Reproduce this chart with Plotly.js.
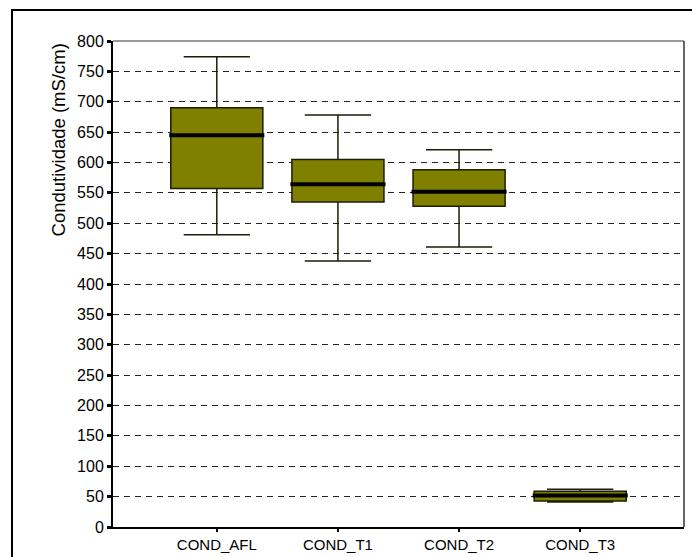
<!DOCTYPE html>
<html>
<head>
<meta charset="utf-8">
<script src="https://cdn.plot.ly/plotly-3.0.1.min.js"></script>
<style>
  html, body { margin: 0; padding: 0; background: #fff; }
  #wrap { position: relative; width: 692px; height: 557px; overflow: hidden; }
  #chart { position: absolute; left: 0; top: 0; width: 692px; height: 557px; }
  #frame { position: absolute; left: 11px; top: 9px; width: 690px; height: 600px; border: 2px solid #000; box-sizing: border-box; pointer-events: none; }
</style>
</head>
<body>
<div id="wrap">
  <div id="chart"></div>
  <div id="frame"></div>
</div>
<script>
const categories = ['COND_AFL', 'COND_T1', 'COND_T2', 'COND_T3'];
const lowerWhisker = [481, 438, 461, 41];
const q1Values = [557, 535, 528, 43];
const medianValues = [645, 564, 552, 52];
const q3Values = [690, 605, 588, 59];
const upperWhisker = [774, 678, 621, 62];
const yTickValues = [0, 50, 100, 150, 200, 250, 300, 350, 400, 450, 500, 550, 600, 650, 700, 750, 800];
const yTitle = 'Condutividade (mS/cm)';

const boxTrace = {
  type: 'box',
  x: categories,
  q1: q1Values,
  median: medianValues,
  q3: q3Values,
  lowerfence: lowerWhisker,
  upperfence: upperWhisker,
  boxpoints: false,
  width: 0.76,
  whiskerwidth: 0.72,
  fillcolor: '#808000',
  line: { color: '#1c1c08', width: 1.5 },
  showlegend: false,
  hoverinfo: 'skip'
};

const medianTrace = {
  type: 'box',
  x: categories,
  q1: medianValues,
  median: medianValues,
  q3: medianValues,
  lowerfence: medianValues,
  upperfence: medianValues,
  boxpoints: false,
  width: 0.785,
  whiskerwidth: 0,
  fillcolor: '#000',
  line: { color: '#000', width: 4 },
  showlegend: false,
  hoverinfo: 'skip'
};

const layout = {
  width: 692,
  height: 557,
  margin: { l: 113, r: 8, t: 41, b: 30, pad: 0 },
  paper_bgcolor: '#fff',
  plot_bgcolor: '#fff',
  font: { family: 'Liberation Sans, Arial, sans-serif', size: 15, color: '#000' },
  boxmode: 'overlay',
  showlegend: false,
  xaxis: {
    type: 'category',
    range: [-0.857, 3.857],
    showgrid: false,
    zeroline: false,
    showline: true,
    linecolor: '#000',
    linewidth: 2,
    ticks: 'outside',
    ticklen: 3,
    tickwidth: 2,
    tickcolor: '#000',
    tickfont: { size: 15 }
  },
  yaxis: {
    range: [0, 800],
    tickvals: yTickValues,
    ticktext: yTickValues.map(String),
    showgrid: true,
    gridcolor: '#222',
    gridwidth: 1,
    griddash: '6px,5px',
    zeroline: false,
    showline: true,
    linecolor: '#000',
    linewidth: 2,
    ticks: 'outside',
    ticklen: 4,
    tickwidth: 3,
    tickcolor: '#000',
    tickfont: { size: 16 }
  },
  annotations: [
    {
      text: yTitle,
      xref: 'paper', yref: 'paper',
      x: -0.0946, y: 1,
      xanchor: 'center', yanchor: 'top',
      textangle: -90,
      showarrow: false,
      font: { size: 18.5, color: '#000' }
    }
  ],
  shapes: [
    { type: 'line', xref: 'paper', yref: 'paper', x0: 0, x1: 1, y0: 1, y1: 1, line: { color: '#777', width: 1.5 }, layer: 'above' },
    { type: 'line', xref: 'paper', yref: 'paper', x0: 1, x1: 1, y0: 0, y1: 1, line: { color: '#333', width: 1.5 }, layer: 'above' }
  ]
};

Plotly.newPlot('chart', [boxTrace, medianTrace], layout, { staticPlot: true, displayModeBar: false });
</script>
</body>
</html>
